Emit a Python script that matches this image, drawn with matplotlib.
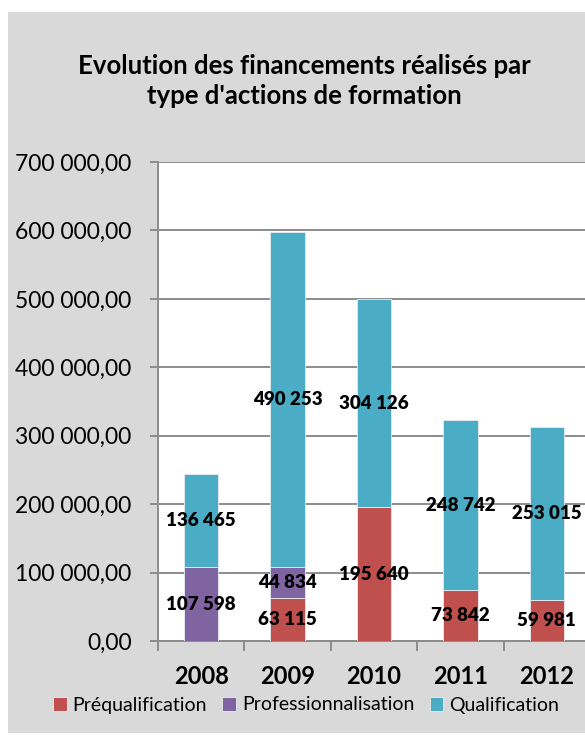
import matplotlib.pyplot as plt
import matplotlib.ticker as mticker
from matplotlib.patches import Rectangle
import numpy as np

plt.rcParams['font.family'] = ['Lato', 'DejaVu Sans']

# data
years = ["2008", "2009", "2010", "2011", "2012"]
prequal = np.array([0, 63115, 195640, 73842, 59981])
profess = np.array([107598, 44834, 0, 0, 0])
qualif = np.array([136465, 490253, 304126, 248742, 253015])
series_names = ["Préqualification", "Professionnalisation", "Qualification"]
colors = ["#c0504d", "#8064a2", "#4bacc6"]


def fr_int(v):
    return f"{int(v):,}".replace(",", " ")


def fr_tick(v, pos):
    return f"{v:,.2f}".replace(",", " ").replace(".", ",")


fig = plt.figure(figsize=(5.85, 7.35), dpi=100, facecolor="white")
# gray chart panel, behind the axes
fig.patches.append(Rectangle((8 / 585, 2 / 735), 1.0, 721 / 735,
                             transform=fig.transFigure, facecolor="#d9d9d9",
                             edgecolor="none", zorder=-10))

ax = fig.add_axes([158 / 585, 94 / 735, 432 / 585, 479 / 735])
ax.set_facecolor("white")

x = np.arange(len(years))
w = 0.4
bottom = np.zeros(len(years))
for vals, name, c in zip([prequal, profess, qualif], series_names, colors):
    bars = ax.bar(x, vals, w, bottom=bottom, color=c, label=name,
                  edgecolor="#e6eef2", linewidth=0.6, zorder=3)
    labels = [fr_int(v) if v > 0 else "" for v in vals]
    ax.bar_label(bars, labels=labels, label_type="center", fontsize=13.5,
                 fontweight="heavy", color="black", zorder=4)
    bottom += vals

ax.set_xlim(-0.5, 4.5)
ax.set_ylim(0, 700000)
ax.yaxis.set_major_locator(mticker.MultipleLocator(100000))
ax.yaxis.set_major_formatter(mticker.FuncFormatter(fr_tick))
ax.grid(axis="y", color="#8c8c8c", linewidth=1.4, zorder=1)

ax.set_xticks(x)
ax.set_xticklabels(years, fontsize=17, fontweight="bold")
ax.set_xticks(np.arange(-0.5, 5, 1), minor=True)
ax.tick_params(axis="x", which="major", length=0, pad=17)
ax.tick_params(axis="x", which="minor", length=7, width=1.4, color="#8c8c8c",
               direction="out")
ax.tick_params(axis="y", length=6, width=1.4, color="#8c8c8c", labelsize=16.5,
               pad=13)

for s in ["top", "right"]:
    ax.spines[s].set_visible(False)
for s in ["left", "bottom"]:
    ax.spines[s].set_color("#8c8c8c")
    ax.spines[s].set_linewidth(1.4)

fig.text(304 / 585, 1 - 81 / 735,
         "Evolution des financements réalisés par\ntype d'actions de formation",
         ha="center", va="center", fontsize=18.5, fontweight="bold",
         linespacing=1.3)

fig.legend(loc="center", bbox_to_anchor=(306 / 585, 30 / 735), ncol=3,
           frameon=False, fontsize=14, handlelength=0.7, handleheight=0.7,
           handletextpad=0.3, columnspacing=0.8)

fig.savefig("out.png", dpi=100, facecolor="white")
